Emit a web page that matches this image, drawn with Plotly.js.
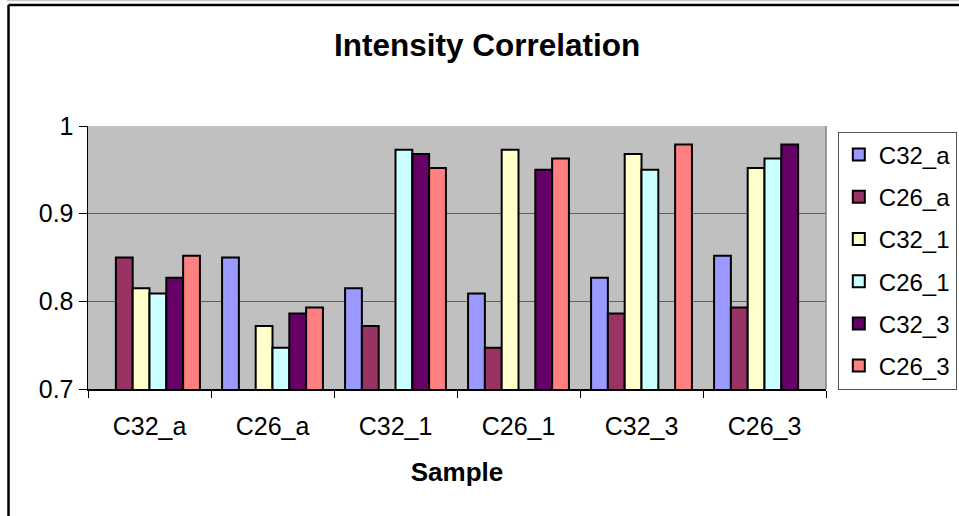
<!DOCTYPE html>
<html>
<head>
<meta charset="utf-8">
<script src="https://cdn.plot.ly/plotly-3.0.1.min.js"></script>
<style>
  html, body { margin: 0; padding: 0; background: #ffffff; }
  #chart { width: 959px; height: 516px; }
</style>
</head>
<body>
<div id="chart"></div>
<script>
// Samples on the category axis (also the compared series)
const samples = ['C32_a', 'C26_a', 'C32_1', 'C26_1', 'C32_3', 'C26_3'];

// Correlation of each series against each sample (null on the diagonal)
const C32_a = [null,  0.850, 0.815, 0.809, 0.827, 0.852];
const C26_a = [0.850, null,  0.772, 0.747, 0.786, 0.793];
const C32_1 = [0.815, 0.772, null,  0.973, 0.968, 0.952];
const C26_1 = [0.809, 0.747, 0.973, null,  0.950, 0.963];
const C32_3 = [0.827, 0.786, 0.968, 0.950, null,  0.979];
const C26_3 = [0.852, 0.793, 0.952, 0.963, 0.979, null ];

const seriesNames = ['C32_a', 'C26_a', 'C32_1', 'C26_1', 'C32_3', 'C26_3'];
const seriesValues = [C32_a, C26_a, C32_1, C26_1, C32_3, C26_3];
const seriesColors = ['#9999FF', '#993366', '#FFFFCC', '#CCFFFF', '#660066', '#FF8080'];

const FONT = 'Arial, "Liberation Sans", Helvetica, sans-serif';

const traces = seriesNames.map((name, i) => ({
  type: 'bar',
  name: name,
  legendgroup: name,
  x: samples,
  y: seriesValues[i],
  marker: { color: seriesColors[i], line: { color: '#000000', width: 2 } },
  hoverinfo: 'x+y+name'
}));

const layout = {
  width: 959,
  height: 516,
  autosize: false,
  margin: { l: 88, r: 133, t: 126, b: 127, pad: 0, autoexpand: false },
  paper_bgcolor: '#ffffff',
  plot_bgcolor: '#C0C0C0',
  font: { family: FONT, size: 25, color: '#000000' },
  barmode: 'group',
  bargap: 0.18,
  bargroupgap: 0,
  title: {
    text: '<b>Intensity Correlation</b>',
    font: { family: FONT, size: 31.5, color: '#000000' },
    xref: 'container', x: 0.508, xanchor: 'center',
    yref: 'container', y: 0.913, yanchor: 'middle'
  },
  xaxis: {
    type: 'category',
    tickson: 'boundaries',
    ticks: 'outside',
    ticklen: 7,
    tickwidth: 1,
    tickcolor: '#000000',
    showline: true,
    linecolor: '#000000',
    linewidth: 1.5,
    showgrid: false,
    ticklabelstandoff: 14,
    tickfont: { family: FONT, size: 25, color: '#000000' },
    title: {
      text: '<b>Sample</b>',
      font: { family: FONT, size: 26, color: '#000000' },
      standoff: 24
    }
  },
  yaxis: {
    range: [0.7, 1.0],
    dtick: 0.1,
    tick0: 0.7,
    ticks: 'outside',
    ticklen: 8,
    tickwidth: 1,
    tickcolor: '#000000',
    showline: true,
    linecolor: '#000000',
    linewidth: 1.5,
    showgrid: true,
    gridcolor: '#5e5e5e',
    gridwidth: 1.5,
    zeroline: false,
    tickfont: { family: FONT, size: 25, color: '#000000' }
  },
  legend: {
    x: 1.016, xanchor: 'left',
    y: 0.979, yanchor: 'top',
    bgcolor: '#ffffff',
    bordercolor: '#555555',
    borderwidth: 1,
    tracegroupgap: 8,
    font: { family: FONT, size: 24, color: '#000000' }
  },
  shapes: [
    // right edge of the plot area
    { type: 'line', xref: 'paper', yref: 'paper', x0: 1, x1: 1, y0: 0, y1: 1,
      line: { color: '#808080', width: 1.5 }, layer: 'above' },
    // chart frame: left and top black edges
    { type: 'line', xref: 'paper', yref: 'paper', x0: -0.1077, x1: -0.1077, y0: -1, y1: 1.460,
      line: { color: '#000000', width: 2.5 }, layer: 'above' },
    { type: 'line', xref: 'paper', yref: 'paper', x0: -0.1077, x1: 2, y0: 1.460, y1: 1.460,
      line: { color: '#000000', width: 2.5 }, layer: 'above' },
    // faint outer edge above the frame
    { type: 'line', xref: 'paper', yref: 'paper', x0: -0.11, x1: 2, y0: 1.477, y1: 1.477,
      line: { color: '#c8c8c8', width: 1.5 }, layer: 'above' }
  ]
};

Plotly.newPlot('chart', traces, layout, { displayModeBar: false, staticPlot: true });
</script>
</body>
</html>
